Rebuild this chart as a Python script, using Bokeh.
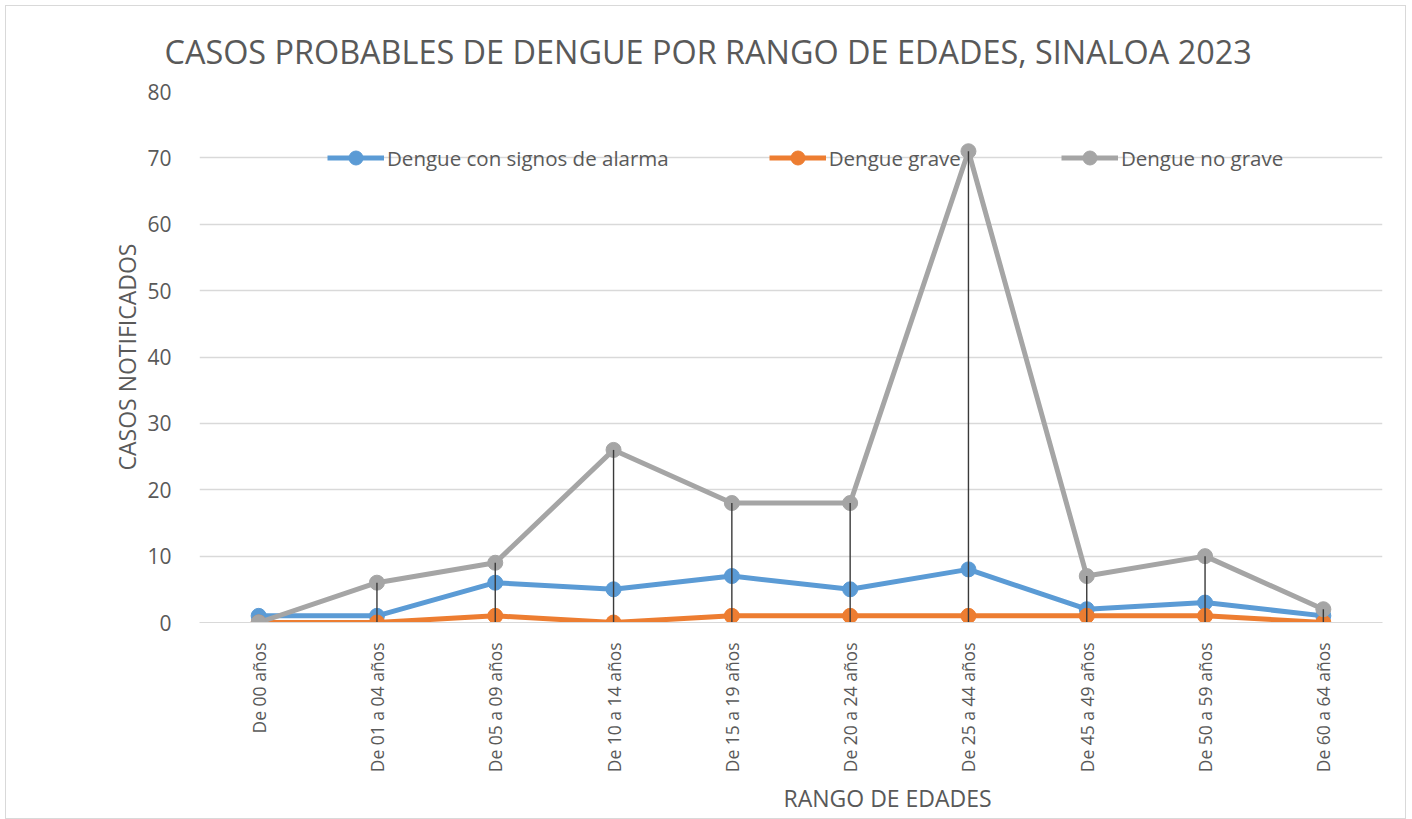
import math
from bokeh.plotting import figure
from bokeh.models import FactorRange, Range1d, Legend, LegendItem, ColumnDataSource, SingleIntervalTicker, Title
from bokeh.embed import file_html
from bokeh.resources import INLINE

categories = ["De 00 años", "De 01 a 04 años", "De 05 a 09 años", "De 10 a 14 años",
              "De 15 a 19 años", "De 20 a 24 años", "De 25 a 44 años", "De 45 a 49 años",
              "De 50 a 59 años", "De 60 a 64 años"]
con_signos = [1, 1, 6, 5, 7, 5, 8, 2, 3, 1]
grave = [0, 0, 1, 0, 1, 1, 1, 1, 1, 0]
no_grave = [0, 6, 9, 26, 18, 18, 71, 7, 10, 2]
series_names = ["Dengue con signos de alarma", "Dengue grave", "Dengue no grave"]
colors = ["#5B9BD5", "#ED7D31", "#A5A5A5"]

FONT = "Open Sans"
TXT = "#595959"

W, H = 1401, 814
p = figure(x_range=FactorRange(*categories, range_padding=0, factor_padding=0),
           y_range=Range1d(0, 80),
           width=W, height=H, output_backend="svg", toolbar_location=None,
           min_border_left=193, min_border_right=25, min_border_top=85, min_border_bottom=198)
p.styles = {"border": "1px solid #D9D9D9", "margin": "5px 0 0 5px"}
p.outline_line_color = None
p.background_fill_color = "white"

# axes
p.yaxis.ticker = SingleIntervalTicker(interval=10)
p.yaxis.axis_line_color = None
p.yaxis.major_tick_line_color = None
p.yaxis.minor_tick_line_color = None
p.yaxis.major_label_text_font = FONT
p.yaxis.major_label_text_font_size = "21px"
p.yaxis.major_label_text_color = TXT
p.yaxis.major_label_standoff = 22

p.xaxis.axis_line_color = "#D9D9D9"
p.xaxis.major_tick_line_color = None
p.xaxis.minor_tick_line_color = None
p.xaxis.major_label_orientation = math.pi / 2
p.xaxis.major_label_text_font = FONT
p.xaxis.major_label_text_font_size = "17.5px"
p.xaxis.major_label_text_color = TXT
p.xaxis.major_label_standoff = 14

p.xgrid.grid_line_color = None
p.ygrid.grid_line_color = "#D9D9D9"
p.ygrid.grid_line_width = 1.3

src = ColumnDataSource(dict(x=categories, a=con_signos, b=grave, c=no_grave,
                            z=[0] * len(categories)))

items = []
for col, name, color in zip(["a", "b", "c"], series_names, colors):
    l = p.line("x", col, source=src, line_color=color, line_width=5)
    s = p.scatter("x", col, source=src, size=15, fill_color=color, line_color=color)
    items.append(LegendItem(label=name, renderers=[l, s]))

# drop lines
p.segment(x0="x", y0="z", x1="x", y1="c", source=src, line_color="#3a3a3a", line_width=1.4)

legend = Legend(items=items, orientation="horizontal", location=(128, 447),
                spacing=100, glyph_width=57, glyph_height=35, label_height=35, label_standoff=3,
                label_text_font=FONT, label_text_font_size="20.5px", label_text_color=TXT,
                padding=0, margin=0, border_line_color=None, background_fill_alpha=0)
p.add_layout(legend, "center")

# title and axis titles
p.add_layout(Title(text="CASOS PROBABLES DE DENGUE POR RANGO DE EDADES, SINALOA 2023",
                   align="left", offset=-35, standoff=37,
                   text_font=FONT, text_font_size="32.4px", text_font_style="normal",
                   text_color=TXT), "above")
p.add_layout(Title(text="CASOS NOTIFICADOS", align="center", standoff=4,
                   text_font=FONT, text_font_size="23px", text_font_style="normal",
                   text_color=TXT), "left")
p.add_layout(Title(text="RANGO DE EDADES", align="left", offset=584, standoff=8,
                   text_font=FONT, text_font_size="23px", text_font_style="normal",
                   text_color=TXT), "below")

open("out.html", "w").write(file_html(p, INLINE))
